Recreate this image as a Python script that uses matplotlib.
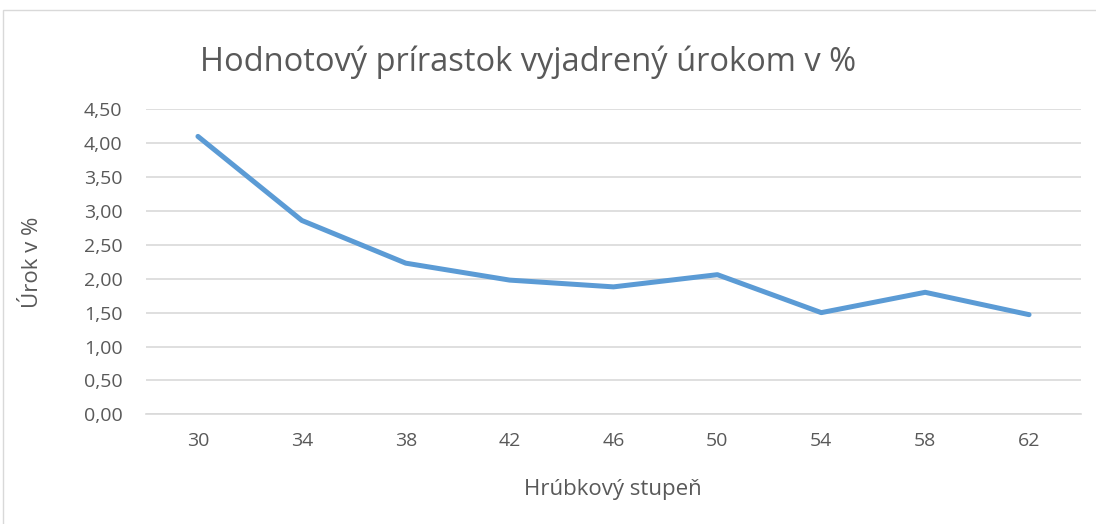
import matplotlib.pyplot as plt
from matplotlib.patches import Rectangle
from matplotlib.ticker import FuncFormatter

plt.rcParams['font.family'] = ['Open Sans', 'DejaVu Sans']

stupne = ['30', '34', '38', '42', '46', '50', '54', '58', '62']
urok = [4.10, 2.86, 2.23, 1.98, 1.88, 2.06, 1.50, 1.80, 1.47]
yticks = [0, 0.5, 1.0, 1.5, 2.0, 2.5, 3.0, 3.5, 4.0, 4.5]

text_col = '#595959'
grid_col = '#D9D9D9'

fig = plt.figure(figsize=(10.96, 5.24), dpi=100)
# chart frame
fig.patches.append(Rectangle((3 / 1096, -0.01), 1.2, 1 - 10 / 524 + 0.01,
                             transform=fig.transFigure, fill=False,
                             edgecolor='#D9D9D9', linewidth=1))

ax_left, ax_w = 146 / 1096, (1081 - 146) / 1096
ax_bot, ax_h = 1 - 414.3 / 524, 305 / 524
ax = fig.add_axes([ax_left, ax_bot, ax_w, ax_h])
x = list(range(len(stupne)))
ax.plot(x, urok, color='#5B9BD5', linewidth=3.6, solid_capstyle='round',
        solid_joinstyle='round', zorder=3)

ax.set_xlim(-0.5, len(stupne) - 0.5)
ax.set_ylim(0, 4.5)
ax.set_xticks(x)
ax.set_xticklabels(stupne)
ax.set_yticks(yticks)
ax.yaxis.set_major_formatter(FuncFormatter(lambda v, p: f'{v:.2f}'.replace('.', ',')))
ax.grid(axis='y', color=grid_col, linewidth=1.2)
ax.set_axisbelow(True)
for s in ['top', 'right', 'left']:
    ax.spines[s].set_visible(False)
ax.spines['bottom'].set_color(grid_col)
ax.spines['bottom'].set_linewidth(1.2)
ax.tick_params(length=0, labelsize=14, colors=text_col)
ax.tick_params(axis='y', pad=17)
ax.tick_params(axis='x', pad=13)

ax.set_xlabel('Hrúbkový stupeň', fontsize=16, color=text_col, va='center')
ax.xaxis.set_label_coords((613 - 146) / 935, -(490 - 414.3) / 305)
ax.set_ylabel('Úrok v %', fontsize=16, color=text_col, va='center')
ax.yaxis.set_label_coords((32 - 146) / 935, (414.3 - 262) / 305)

fig.text(200 / 1096, 1 - 62 / 524, 'Hodnotový prírastok vyjadrený úrokom v %',
         fontsize=23.5, color=text_col, va='center', ha='left')

fig.savefig('out.png', dpi=100)
